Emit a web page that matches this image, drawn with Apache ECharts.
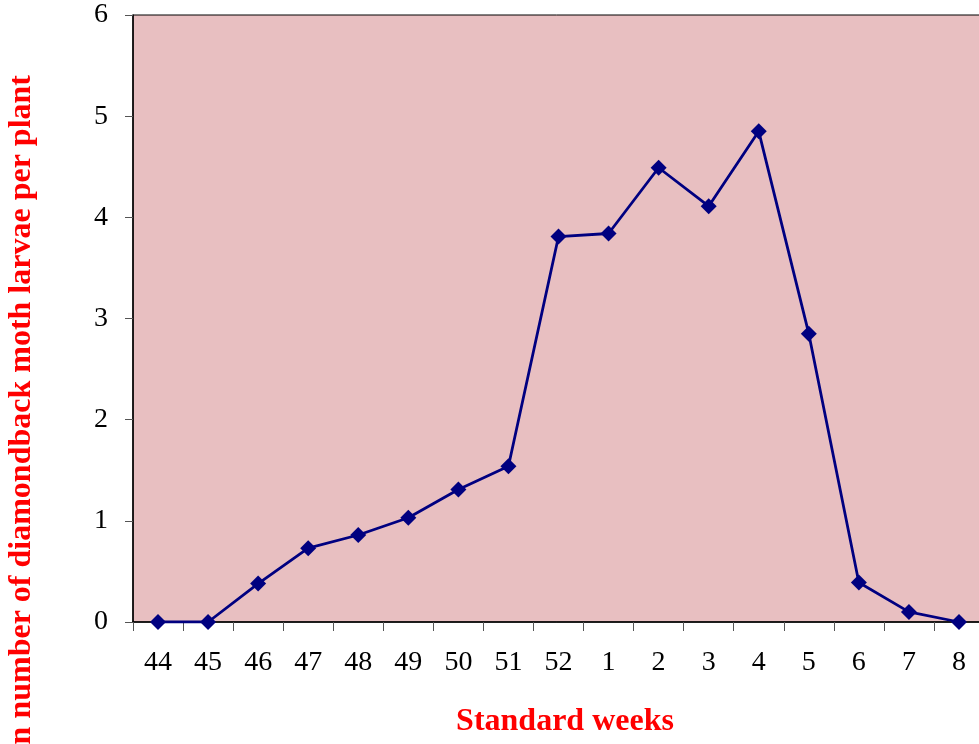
<!DOCTYPE html>
<html>
<head>
<meta charset="utf-8">
<script src="https://cdn.jsdelivr.net/npm/echarts@6/dist/echarts.min.js"></script>
<style>
html,body{margin:0;padding:0;background:#fff;}
#chart{width:979px;height:744px;}
</style>
</head>
<body>
<div id="chart"></div>
<script>
const weeks = ['44','45','46','47','48','49','50','51','52','1','2','3','4','5','6','7','8'];
const larvae = [0, 0, 0.38, 0.73, 0.86, 1.03, 1.31, 1.54, 3.81, 3.84, 4.49, 4.11, 4.85, 2.85, 0.39, 0.10, 0];
const yTicks = [0, 1, 2, 3, 4, 5, 6];
const xTitle = 'Standard weeks';
const yTitle = 'Mean number of diamondback moth larvae per plant';

const chart = echarts.init(document.getElementById('chart'), null, {renderer: 'canvas'});
const serif = '"Liberation Serif", "Times New Roman", serif';
chart.setOption({
  animation: false,
  backgroundColor: '#ffffff',
  grid: {
    left: 133, top: 15, width: 851, height: 607,
    outerBoundsMode: 'none', containLabel: false,
    show: true, backgroundColor: '#e8bfc1', borderColor: '#000', borderWidth: 1
  },
  xAxis: {
    type: 'category',
    data: weeks,
    boundaryGap: true,
    axisLine: {show: true, lineStyle: {color: '#000', width: 1.5}},
    axisTick: {show: true, length: 9, lineStyle: {color: '#555', width: 1}},
    axisLabel: {color: '#000', fontFamily: serif, fontSize: 28, margin: 27, interval: 0},
    splitLine: {show: false}
  },
  yAxis: {
    type: 'value',
    min: yTicks[0], max: yTicks[yTicks.length - 1], interval: 1,
    axisLine: {show: true, lineStyle: {color: '#000', width: 1.5}},
    axisTick: {show: true, length: 8, lineStyle: {color: '#555', width: 1}},
    axisLabel: {color: '#000', fontFamily: serif, fontSize: 28, margin: 25},
    splitLine: {show: false}
  },
  series: [{
    type: 'line',
    data: larvae,
    symbol: 'diamond',
    symbolSize: 16,
    lineStyle: {color: '#000080', width: 2.8},
    itemStyle: {color: '#000080'},
    z: 5
  }],
  graphic: [
    {
      type: 'text',
      x: 565, y: 722,
      style: {
        text: xTitle, x: 0, y: 0,
        textAlign: 'center', textVerticalAlign: 'middle',
        font: 'bold 32px ' + serif, fill: '#ff0000'
      }
    },
    {
      type: 'text',
      x: 22, y: 75,
      rotation: Math.PI / 2,
      style: {
        text: yTitle, x: 0, y: 0,
        textAlign: 'right', textVerticalAlign: 'middle',
        font: 'bold 32px ' + serif, fill: '#ff0000'
      }
    }
  ]
});
</script>
</body>
</html>
